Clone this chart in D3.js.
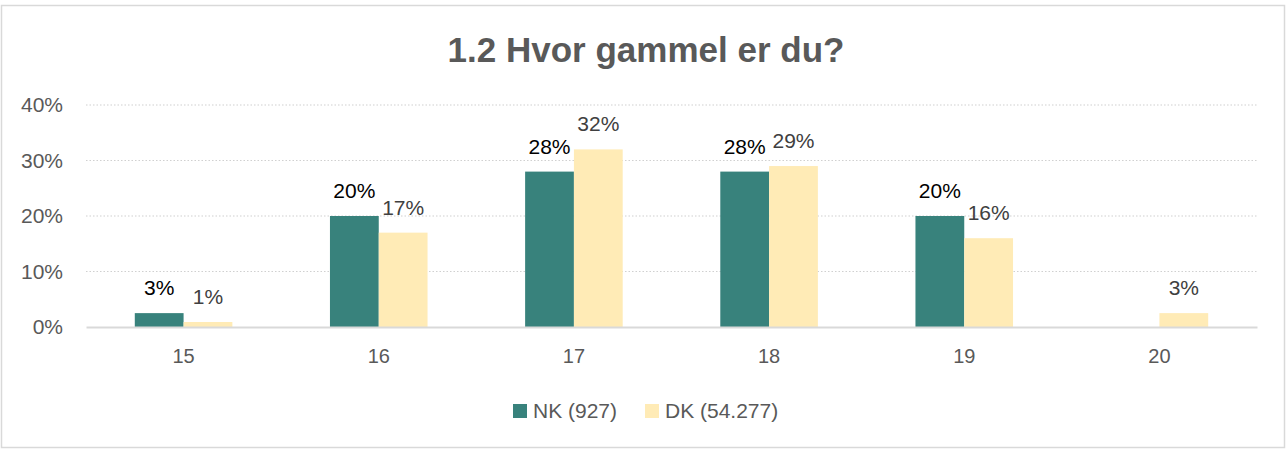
<!DOCTYPE html>
<html><head><meta charset="utf-8">
<script src="https://cdn.jsdelivr.net/npm/d3@7"></script>
<style>
html,body{margin:0;padding:0;background:#fff;}
svg{display:block;font-family:"Liberation Sans",Arial,sans-serif;}
</style></head>
<body><svg id="c" width="1287" height="450"></svg>
<script>
const title = "1.2 Hvor gammel er du?";
const categories = ["15","16","17","18","19","20"];
const seriesNames = ["NK (927)","DK (54.277)"];
const nkValues = [0.025,0.20,0.28,0.28,0.20,null];
const dkValues = [0.009,0.17,0.32,0.29,0.16,0.025];
const nkLabels = ["3%","20%","28%","28%","20%",""];
const dkLabels = ["1%","17%","32%","29%","16%","3%"];
const yTicks = [0,0.1,0.2,0.3,0.4];
const colors = ["#38827C","#FFEBB6"];
const labelColors = ["#000000","#404040"];

(function(){
const svg = d3.select("#c");
svg.append("rect").attr("x",1.5).attr("y",5.5).attr("width",1283).attr("height",442)
  .attr("fill","#fff").attr("stroke","#d9d9d9").attr("stroke-width",1.5);

svg.append("text").attr("x",646).attr("y",62).attr("text-anchor","middle")
  .attr("font-size",35).attr("font-weight","bold").attr("fill","#595959").text(title);

const pl=86, pr=1257, pt=105, pb=327;
const x = d3.scaleBand().domain(categories).range([pl,pr]);
const x1 = d3.scaleBand().domain([0,1]).range([x.bandwidth()*0.25, x.bandwidth()*0.75]);
const y = d3.scaleLinear().domain([0,0.4]).range([pb,pt]);

const grid = svg.append("g");
grid.selectAll("line").data(yTicks.filter(d=>d>0)).join("line")
  .attr("x1",pl).attr("x2",pr).attr("y1",d=>y(d)).attr("y2",d=>y(d))
  .attr("stroke","#d0d0d0").attr("stroke-width",1.2).attr("stroke-dasharray","1.5,2");

const yAxis = svg.append("g").attr("transform",`translate(${pl},0)`)
  .call(d3.axisLeft(y).tickValues(yTicks).tickFormat(d3.format(".0%")).tickSize(0).tickPadding(23));
yAxis.select(".domain").remove();
yAxis.selectAll("text").attr("font-size",21).attr("fill","#595959").attr("font-family","Liberation Sans, Arial, sans-serif");

const series = [nkValues, dkValues];
const labels = [nkLabels, dkLabels];
series.forEach((vals,si)=>{
  const g = svg.append("g");
  const data = categories.map((c,i)=>({c, v:vals[i], l:labels[si][i]})).filter(d=>d.v!=null);
  g.selectAll("rect").data(data).join("rect")
    .attr("x",d=>x(d.c)+x1(si)).attr("width",x1.bandwidth())
    .attr("y",d=>y(d.v)).attr("height",d=>pb-y(d.v)).attr("fill",colors[si]);
  g.selectAll("text").data(data).join("text")
    .attr("x",d=>x(d.c)+x1(si)+x1.bandwidth()/2).attr("y",d=>y(d.v)-18)
    .attr("text-anchor","middle").attr("font-size",21).attr("fill",labelColors[si]).text(d=>d.l);
});

const xAxis = svg.append("g").attr("transform",`translate(0,${pb})`)
  .call(d3.axisBottom(x).tickSize(0).tickPadding(22));
xAxis.select(".domain").attr("stroke","#d9d9d9").attr("stroke-width",2);
xAxis.selectAll("text").attr("font-size",20).attr("fill","#595959").attr("font-family","Liberation Sans, Arial, sans-serif");

const legendX = [513,645];
seriesNames.forEach((n,i)=>{
  svg.append("rect").attr("x",legendX[i]).attr("y",404).attr("width",14).attr("height",14).attr("fill",colors[i]);
  svg.append("text").attr("x",legendX[i]+20).attr("y",417.5).attr("font-size",21).attr("fill","#595959").text(n);
});
})();
</script></body></html>
